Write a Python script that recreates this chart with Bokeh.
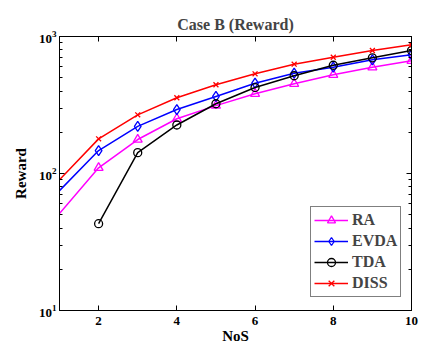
import math
from bokeh.plotting import figure
from bokeh.models import (Range1d, FixedTicker, LinearAxis, LogAxis, Legend, LegendItem,
                          CustomLabelingPolicy, CustomJSTickFormatter)
from bokeh.embed import file_html
from bokeh.resources import INLINE

nos = [1, 2, 3, 4, 5, 6, 7, 8, 9, 10]
ra = [51, 110, 177, 251, 313, 382, 452, 525, 596, 665]
evda = [75, 147, 221, 293, 365, 456, 540, 597, 676, 735]
tda = [float("nan"), 43, 142, 226, 323, 424, 517, 617, 699, 790]
diss = [90, 179, 268, 357, 444, 534, 628, 706, 790, 870]

x_ticks = [2, 4, 6, 8, 10]
y_ticks = [10, 100, 1000]
y_minor = [20, 30, 40, 50, 60, 70, 80, 90, 200, 300, 400, 500, 600, 700, 800, 900]

FONT = "Liberation Serif"

p = figure(width=423, height=348, x_range=Range1d(1, 10), y_range=Range1d(10, 1000),
           y_axis_type="log", output_backend="svg", toolbar_location=None,
           min_border_left=59, min_border_right=12, min_border_top=36, min_border_bottom=38,
           title="Case B (Reward)")
p.title.align = "center"
p.title.text_font = FONT
p.title.text_font_style = "bold"
p.title.text_font_size = "16px"
p.title.standoff = 8
p.xgrid.visible = False
p.ygrid.visible = False
p.outline_line_color = "black"
p.background_fill_color = "white"
p.border_fill_color = "white"

hide_all = CustomLabelingPolicy(code="""
const ids = [...indices];
for (const i of ids) indices.unset(i);
return indices;
""")

def style_axis(ax, labels=True):
    ax.major_tick_in = 5
    ax.major_tick_out = 0
    ax.minor_tick_in = 3
    ax.minor_tick_out = 0
    ax.axis_line_color = "black"
    ax.major_tick_line_color = "black"
    ax.minor_tick_line_color = "black"
    ax.major_label_text_font = FONT
    ax.major_label_text_font_style = "bold"
    ax.major_label_text_color = "black"
    ax.major_label_text_font_size = "13px"
    ax.axis_label_text_font = FONT
    ax.axis_label_text_font_style = "bold"
    ax.axis_label_text_font_size = "15px"
    ax.axis_label_text_color = "black"
    if not labels:
        ax.major_label_policy = hide_all
        ax.major_label_standoff = 0
        ax.major_label_text_font_size = "1px"
        ax.formatter = CustomJSTickFormatter(code="return ''")

xa = p.xaxis[0]
xa.ticker = FixedTicker(ticks=x_ticks)
xa.axis_label = "NoS"
xa.axis_label_standoff = 0
xa.major_label_standoff = 6
style_axis(xa)

ya = p.yaxis[0]
ya.ticker = FixedTicker(ticks=y_ticks, minor_ticks=y_minor)
ya.axis_label = "Reward"
ya.axis_label_standoff = 7
ya.major_label_standoff = 3
style_axis(ya)

top = LinearAxis(ticker=FixedTicker(ticks=x_ticks))
style_axis(top, labels=False)
p.add_layout(top, "above")
right = LogAxis(ticker=FixedTicker(ticks=y_ticks, minor_ticks=y_minor))
style_axis(right, labels=False)
p.add_layout(right, "right")

series = [
    ("RA", ra, "#FF00FF", "triangle", 9),
    ("EVDA", evda, "#0000FF", "diamond", 10),
    ("TDA", tda, "black", "circle", 8),
    ("DISS", diss, "#FF0000", "x", 7),
]
items = []
for name, vals, col, mk, sz in series:
    xs = [x for x, v in zip(nos, vals) if not math.isnan(v)]
    vs = [v for v in vals if not math.isnan(v)]
    ln = p.line(xs, vs, line_color=col, line_width=1.5)
    sc = p.scatter(nos[1:], vals[1:], marker=mk, size=sz, line_color=col,
                   fill_color=None, line_width=1.3)
    items.append(LegendItem(label=name, renderers=[ln, sc]))

leg = Legend(items=items, location=(251, 13))
leg.label_text_font = FONT
leg.label_text_font_style = "bold"
leg.label_text_font_size = "16px"
leg.glyph_width = 34
leg.glyph_height = 20
leg.label_standoff = 4
leg.spacing = 1
leg.padding = 3
leg.margin = 0
leg.border_line_color = "black"
leg.border_line_width = 1
leg.background_fill_alpha = 1
p.add_layout(leg)

open("out.html", "w").write(file_html(p, INLINE))
